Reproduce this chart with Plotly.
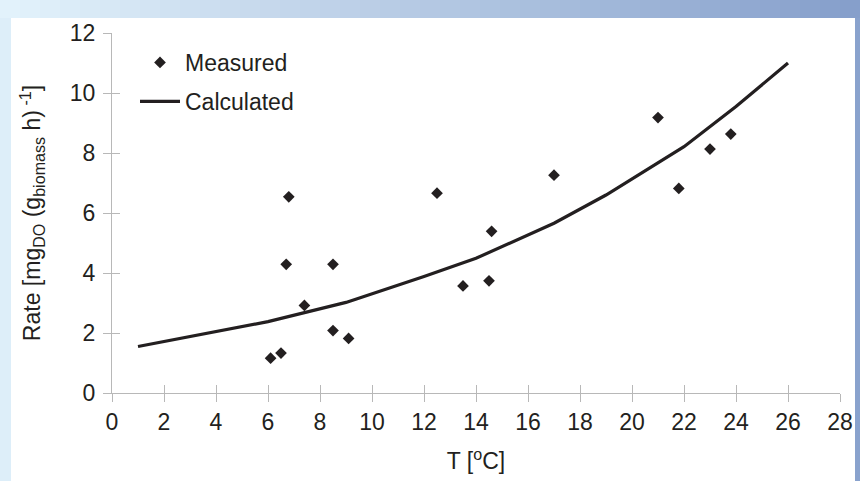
import plotly.graph_objects as go

# ---- data ----
meas_T = [6.1, 6.5, 6.7, 6.8, 7.4, 8.5, 8.5, 9.1, 12.5, 13.5, 14.5, 14.6, 17.0, 21.0, 21.8, 23.0, 23.8]
meas_rate = [1.16, 1.33, 4.29, 6.54, 2.92, 4.29, 2.08, 1.82, 6.66, 3.57, 3.74, 5.39, 7.26, 9.18, 6.82, 8.13, 8.63]
calc_T = [1, 6, 9, 12, 14, 17, 19, 22, 24, 26]
calc_rate = [1.55, 2.38, 3.02, 3.88, 4.49, 5.66, 6.60, 8.21, 9.55, 11.0]
x_ticks = list(range(0, 29, 2))
y_ticks = list(range(0, 13, 2))

W, H = 860, 481
L, R, T, B = 112, 20, 33, 88
PW, PH = W - L - R, H - T - B

INK = "#231f20"
AX = "#b8b8b8"
FONT = "Liberation Sans, Arial, sans-serif"
FS = 23

fig = go.Figure()
fig.add_trace(go.Scatter(x=meas_T, y=meas_rate, mode="markers", name="Measured",
                         legendgroup="m",
                         marker=dict(symbol="diamond", size=9, color=INK,
                                     line=dict(width=0))))
fig.add_trace(go.Scatter(x=calc_T, y=calc_rate, mode="lines", name="Calculated",
                         legendgroup="c",
                         line=dict(color=INK, width=3.2)))


def px2x(p):
    return (p - L) / PW


def py2y(p):
    return (H - B - p) / PH


shapes = []
# left light strip
shapes.append(dict(type="rect", xref="paper", yref="paper", layer="below",
                   x0=px2x(0), x1=px2x(11), y0=py2y(H), y1=py2y(0),
                   fillcolor="#ddeef9", line=dict(width=0)))
# right strip
shapes.append(dict(type="rect", xref="paper", yref="paper", layer="below",
                   x0=px2x(855), x1=px2x(W), y0=py2y(H), y1=py2y(0),
                   fillcolor="#89a2cd", line=dict(width=0)))
# top gradient strip
c0 = (0xe2, 0xf2, 0xfb)
c1 = (0x86, 0x9f, 0xcb)
n = 43
for i in range(n):
    t = i / (n - 1)
    col = tuple(round(a + (b - a) * t) for a, b in zip(c0, c1))
    shapes.append(dict(type="rect", xref="paper", yref="paper", layer="below",
                       x0=px2x(i * W / n), x1=px2x((i + 1) * W / n + 0.5),
                       y0=py2y(18), y1=py2y(0),
                       fillcolor="rgb(%d,%d,%d)" % col, line=dict(width=0)))

fig.update_layout(
    width=W, height=H,
    margin=dict(l=L, r=R, t=T, b=B, autoexpand=False),
    paper_bgcolor="white", plot_bgcolor="white",
    font=dict(family=FONT, size=FS, color=INK),
    shapes=shapes,
    showlegend=True,
    legend=dict(x=px2x(135), y=py2y(41), xanchor="left", yanchor="top",
                bgcolor="rgba(0,0,0,0)", font=dict(size=FS, color=INK),
                tracegroupgap=6, itemwidth=40),
    xaxis=dict(range=[0, 28], tickvals=x_ticks, ticks="outside", ticklen=8,
               tickcolor=AX, tickwidth=1, showline=True, linecolor=AX, linewidth=1,
               showgrid=False, zeroline=False, automargin=False,
               title=dict(text="T [<sup>o</sup>C]", standoff=19,
                          font=dict(size=FS))),
    yaxis=dict(range=[0, 12], tickvals=y_ticks, ticks="outside", ticklen=8,
               tickcolor=AX, tickwidth=1, showline=True, linecolor=AX, linewidth=1,
               showgrid=False, zeroline=False, automargin=False, ticklabelstandoff=3,
               title=dict(text="Rate [mg<sub>DO</sub> (g<sub>biomass</sub> h)<sup> -1</sup>]",
                          standoff=22, font=dict(size=FS))),
    xaxis2=dict(range=[0, 28], tickvals=x_ticks, ticks="inside", ticklen=8,
                tickcolor=AX, tickwidth=1, showticklabels=False, showline=False,
                showgrid=False, zeroline=False, overlaying="x", anchor="y2", side="bottom",
                automargin=False),
    yaxis2=dict(range=[0, 12], tickvals=y_ticks, ticks="inside", ticklen=8,
                tickcolor=AX, tickwidth=1, showticklabels=False, showline=False,
                showgrid=False, zeroline=False, overlaying="y", anchor="x2", side="left",
                automargin=False),
)
fig.add_trace(go.Scatter(x=[None], y=[None], xaxis="x2", yaxis="y2", showlegend=False,
                         hoverinfo="skip"))

fig.write_html("out.html",
               config={"displayModeBar": False},
               post_script="document.body.style.margin='0';document.body.style.overflow='hidden';")
